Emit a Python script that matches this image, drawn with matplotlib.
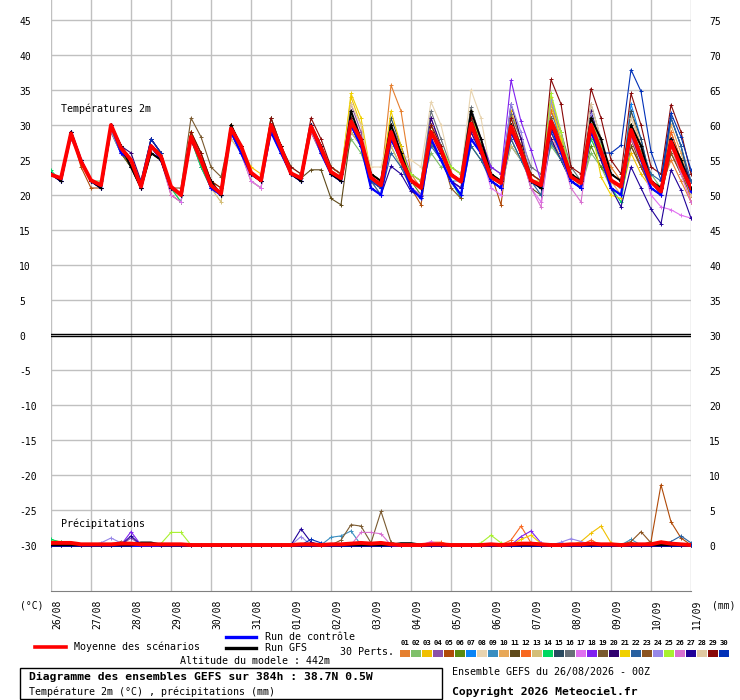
import numpy as np
import matplotlib.pyplot as plt

W, H = 740, 700
MONO = 'DejaVu Sans Mono'

# time axis: 6-hourly steps over 384h, starting 26/08 00Z
hours = np.arange(0, 385, 6)
day_labels = ['26/08', '27/08', '28/08', '29/08', '30/08', '31/08', '01/09', '02/09',
              '03/09', '04/09', '05/09', '06/09', '07/09', '08/09', '09/09', '10/09', '11/09']
left_ticks = [45, 40, 35, 30, 25, 20, 15, 10, 5, 0, -5, -10, -15, -20, -25, -30]
right_ticks = [75, 70, 65, 60, 55, 50, 45, 40, 35, 30, 25, 20, 15, 10, 5, 0]

member_colors = ['#E57F2F', '#7FC06A', '#F0C000', '#8B50A8', '#B04A08', '#5A8A10',
                 '#0A84F5', '#E8D4B0', '#3A8EC0', '#E8A858', '#5F4A1A', '#F86820',
                 '#D4BE78', '#00D860', '#2A4A60', '#687078', '#E070F0', '#8020F0',
                 '#7A5A30', '#300070', '#F0D000', '#2860A0', '#8C5420', '#9888E8',
                 '#A8F030', '#D870D0', '#200098', '#E0C8A0', '#880808', '#0030B8']

# 2m temperature (°C), one value per 6h step
t01 = [23,22,29,25, 22,21,30,26, 24,21,27,26, 21,20,28,24, 21,20,29,27, 23,22,30,27, 23,22,29,26, 24,23,31,28, 23,22,35.7,32, 23,21,28,25, 22,21,29,26, 22,21,31,27, 22,21,31,28, 23,22,31,27, 24,22,27,24, 22,21,25,22, 19]
t02 = [23,22,29,25, 22,22,30,27, 25,21,26,25, 21,20,28,25, 22,20,29,27, 23,22,31,27, 24,23,30,27, 23,22,28,26, 22,21,27,24, 22,21,26,24, 24,23,31,27, 23,22,27,25, 22,21,27,25, 22,21,26,24, 21,20,28,25, 23,21,28,25, 22]
t03 = [23,22,29,25, 22,21,30,27, 25,21,27,26, 21,20,29,26, 22,21,30,27, 24,23,31,27, 23,22,30,27, 24,23,34,30, 23,22,30,26, 22,21,28,26, 23,22,29,26, 23,22,32,28, 22,22,34,29, 23,22,30,26, 21,20,26,23, 21,20,27,24, 20]
t04 = [23,22,28,25, 22,21,29,26, 24,21,27,25, 21,20,28,25, 21,20,29,26, 22,21,29,26, 23,22,30,27, 23,22,33,29, 21,20,30,27, 23,22,30,27, 23,22,31,28, 22,21,30,26, 22,21,32,28, 22,21,30,26, 22,21,30,27, 22,20,28,25, 20]
t05 = [23,22,29,24, 21,21,30,26, 25,21,27,25, 20,19,28,25, 21,20,30,27, 23,22,30,26, 23,22,30,27, 24,23,31,28, 22,21,29,25, 21,18.6,28,25, 23,22,30,26, 23,18.6,30,26, 22,21,31,28, 23,22,30,27, 21,20,28,25, 21,20,29,25, 21]
t06 = [23,22,29,25, 22,21,30,27, 25,21,27,26, 21,20,29,25, 21,20,29,27, 23,22,30,26, 23,22,30,27, 23,22,30,28, 22,21,28,25, 22,20,27.5,25, 23,22,27,25, 23,22,28,25, 23,22,28,25, 22,21,27,24, 22,21,29,25, 22,21,27,24, 21]
t07 = [23,22,29,25, 22,21,30,26, 25,21,27,25, 21,20,28,25, 21,20,29,26, 23,22,30,27, 23,22,30,26, 23,22,31,28, 22,21,29,25, 22,21,29,26, 23,22,30,26, 22,21,29,26, 22,21,30,27, 23,22,31,26, 22,21,33,28, 22,21,31,27, 21]
t08 = [23,22,29,25, 22,21,30,27, 25,21,27,26, 21,20,29,25, 21,20,29,27, 23,22,30,27, 23,22,30,27, 24,23,31,28, 24,24,30,26, 25,24,33.3,30, 24,23,35,31, 23,22,29,26, 22,21,29,26, 22,21,28,25, 22,21,28,25, 21,20,27,24, 21]
t09 = [23,22,29,25, 22,21,30,26, 25,21,27,25, 21,20,28,24, 21,20,29,27, 23,22,30,26, 23,22,29,26, 23,22,30,27, 22,21,28,25, 21,19.5,29,26, 22,22,28,26, 22,21,27,25, 22,21,32,28, 23,22,32,27, 23,22,30,26, 22,21,28,24, 20]
t10 = [23,22,29,25, 22,21,30,26, 24,21,27,26, 21,20,28,25, 22,20,30,27, 23,22,30,27, 23,22,30,27, 24,23,31,28, 22,22,30,26, 22,21,28,26, 23,22,29,26, 23,22,30,26, 22,21,29,25, 23,21,29,26, 22,20,32,27, 22,21,30,26, 21]
t11 = [23,22,29,25, 22,21,29,26, 24,21,26,25, 21,20,29,26, 22,20,29,26, 23,22,30,26, 23,22.4,23.6,23.6, 19.5,18.6,29,27, 23,22,29,25, 22,21,30,27, 23,22,30,27, 22,21,29,26, 21,20,30,27, 22,21,29,25, 21,20,27,24, 21,20,26,23, 20]
t12 = [23,22,29,25, 22,21,30,27, 25,21,28,26, 21,20,28,25, 21,20,30,27, 23,22,30,27, 23,22,30,27, 23,22,31,28, 23,22,30,26, 22,21,29,26, 23,22,30,27, 22,21,30,27, 22,21,32,29, 23,22,31,27, 22,21,30,27, 22,21,29,25, 19]
t13 = [23,22,29,25, 22,21,29,26, 25,21,27,25, 21,19,28,25, 21,19,28,26, 22,21,30,26, 23,22,30,26, 23,22,29,27, 22,20,27,24, 21,20,28,26, 23,22,29,26, 22,21,27,25, 22,21,33,28, 22,21,29,25, 21,20,28,25, 22,21,27,24, 21]
t14 = [23.5,22,29,25, 22,21,29,26, 24,21,26,25, 21,19,28,24, 21,20,29,26, 23,22,30,26, 23,22,30,27, 24,23,30,27, 23,22,30,26, 22,21,29,26, 22,19.5,30,27, 22,21,29,26, 22,21,30,26, 22,21,28,25, 21,19,28,25, 22,21,28,24, 21]
t15 = [23,22,29,25, 22,21,30,26, 25,21,27,25, 21,20,28,25, 21,20,29,27, 23,22,31,27, 23,22,30,27, 24,23,31,28, 23,22,31,27, 22,21,30,27, 23,22,30,26, 22,21,30,26, 23,22,31,27, 23,22,30,27, 22,21,32,28, 22,21,31,27, 21]
t16 = [23,22,29,25, 22,21,30,26, 25,21,27,25, 21,20,28,25, 21,20,29,27, 23,22,30,27, 23,22,29,26, 23,22,30,27, 22,21,29,25, 23,22,32,28, 24,23,32.5,28, 24,23,31.5,28, 24,23,33,29, 24,22,33,28, 22,21,29,26, 22,21,28,25, 21]
t17 = [23,22,29,25, 22,21,30,26, 25,21,27,25, 20,19,28,25, 21,20,29,26, 22,21,30,26, 23,22,30,26, 23,22,30,27, 21,20,28,25, 21,20,28,26, 22,21,29,26, 21,20,29,26, 21,19,28,26, 22,21,29,26, 22,21,28,25, 20,18.3,17.9,17.1, 16.7]
t18 = [23,22,29,25, 22,21,30,27, 25,21,27,25, 21,20,28,25, 21,20,29,27, 23,22,30,27, 23,22,30,27, 24,23,32,28, 22,21,30,26, 22,21,31,27, 23,22,31,28, 24,23,36.4,30.5, 26.4,22,30,27, 22,21,30,26, 22,21,29,26, 21,20,28,25, 21]
t19 = [23,22,29,25, 22,21,30,27, 25,21,28,26, 21,21,31,28.3, 24,22.6,29,27, 23,22,30,27, 23,22,30,27, 23,22,31,28, 22,21,29,26, 22,21,29,26, 23,22,30,26, 22,21,30,27, 22,21,31,27, 23,22,30,26, 22,21,29,26, 22,20,28,24, 20]
t20 = [23,22,29,25, 22,21,30,27, 26,22,28,26, 21,20,28,25, 21,20,29,26, 23,22,30,26, 23,22,30,27, 23,22,30,27, 22,21,29,25, 22,21,31,27, 22,21,31.5,27, 23,22,33,28, 22,21,28,25, 22,21,32,27, 23,22,29,26, 22,21,28,25, 22]
t21 = [23,22,29,25, 22,21,30,27, 25,21,27,26, 21,20,29,25, 21,20,30,27, 23,22,30,27, 23,22,30,27, 24,23,34.5,31, 23,22,32,27, 22,21,30,26, 23,22,32,27, 23,22,31,27, 23,22,33,28, 22,21,30,22.6, 20,19.5,28,25, 21,20,27,23, 20]
t22 = [23,22,29,25, 22,21,30,26, 25,21,27,26, 21,20,28,25, 21,20,29,27, 23,22,29,26, 23,22,30,27, 23,22,30,27, 22,20,26,24, 21,20,27,25, 22,20,27,25, 22,21,28,25, 22,20,27.5,25, 22,21,29,26, 22,21,30,27, 23,22,31,27, 22]
t23 = [23,22,29,25, 22,21,30,26, 24,21,26,25, 21,20,28,25, 21,20,29,27, 23,22,30,27, 23,22,30,26, 23,22,30,27, 22,21,29,25, 22,21,29,26, 21,19.5,30,27, 22,21,30,26, 22,21,29,26, 22,21,29,26, 22,21,28,24, 21,20,26,23, 20]
t24 = [23,22,29,25, 22,21,29,26, 25,21,27,25, 21,20,28,25, 21,20,29,26, 23,22,30,26, 23,22,30,27, 23,22,31,28, 22,21,29,26, 22,21,29,26, 22,21,30,26, 23,22,33,29, 23,22,33.5,29, 23,22,31.5,27, 22,21,29,25, 22,21,27,24, 21]
t25 = [23,22,29,25, 22,21,30,27, 25,21,27,26, 21,20,28,25, 21,20,29,27, 23,22,30,27, 23,22,30,27, 24,23,31,28, 23,22,30,26, 23,22,30,27, 24,23,31,27, 23,22,30,27, 23,22,34.5,29, 23,22,31,27, 22,21,30,26, 22,21,28,25, 21]
t26 = [23,22,29,25, 22,21,30,26, 25,21,27,25, 21,20,28,25, 21,20,29,26, 23,22,30,26, 23,22,29,26, 23,22,30,27, 21,20,29,25, 21,20,28,25, 22,21,29,26, 22,21,29,26, 21,18.3,29,26, 21,19,29,25, 21,20,28,25, 21,20,27,23, 19]
t27 = [23,22,29,25, 22,21,30,27, 24,21,28,26, 21,20,28,25, 21,20,29,27, 23,22,30,27, 23,22,30,27, 23,22,30,27, 21,20,24.1,23, 20.5,19.8,28,25, 22,21,29,26, 22,21,29,26, 22,21,30,26, 22,21,29,25, 21,18.3,24,21, 18,15.9,23.6,20.7, 16.7]
t28 = [23,22,29,25, 22,21,30,27, 25,21,27,26, 21,20,28,25, 21,20,29,27, 23,22,30,27, 23,22,30,27, 24,23,33,30, 23,22,30,26, 22,21,30,27, 23,22,32,28, 23,22,31,27, 22,21,30,27, 23,22,33,28, 22,21,31,27, 22,21,28,24, 20]
t29 = [23,22,29,25, 22,21,30,27, 25,21,27,26, 21,20,29,26, 22,21,30,27, 23,22,31,27, 24,23,31,28, 24,23,31,28, 23,22,30,26, 22,21,30,27, 23,22,31,27, 23,22,31,27, 23,22,36.5,33, 24,23,35.2,31, 25,23,34.5,30, 24,23,32.9,29, 23]
t30 = [23,22,29,25, 22,21,30,27, 25,22,28,26, 21,20,28,25, 21,20,29,26, 23,22,30,26, 23,22,30,27, 23,22,30,27, 22,21,29,25, 22,21,29,26, 23,22,30,26, 22,21,30,26, 22,21,29,26, 22,21,30,26, 26,27.1,37.9,34.8, 26.2,22.1,31.7,28.3, 23.6]
t_ctrl = [23,22,29,25, 22,21,30,26, 25,21,27,25, 21,20,28,25, 21,20,29,26, 23,22,29,26, 23,22,30,26, 23,22,30,27, 21,20,28,25, 21,19.5,28,25, 22,20,28,26, 22,21,29,26, 22,21,30,26, 22,21,29,26, 21,20,29,25, 21,20,28,24, 20.5]
t_gfs = [23,22,29,25, 22,21,30,27, 24,21,26,25, 21,20,28,25, 22,20,30,27, 23,22,30,27, 23,22,30,27, 23,22,32,28, 23,22,30,26, 22,21,29,26, 23,22,32,28, 23,22,30,26, 22,21,30,27, 23,22,31,28, 23,22,30,27, 22,21,28,25, 21]
t_mean = [22.9,22.4,28.8,24.8, 22.1,21.4,30.0,26.7, 25.0,21.2,27.0,25.5, 21.2,20.0,28.3,25.0, 21.4,20.2,29.5,27.0, 23.2,22.1,30.0,26.7, 23.1,22.4,29.8,26.7, 23.3,22.4,30.5,27.9, 22.5,21.4,29.0,25.0, 22.1,21.0,29.0,26.4, 22.9,21.9,30.2,26.4, 22.6,21.7,29.8,26.2, 22.1,21.4,30.5,26.9, 22.6,21.7,30.0,26.2, 22.1,21.2,29.3,25.5, 21.9,20.5,27.6,24.0, 21.0]

# precipitation (mm / 6h): (step index, amount), all other steps are 0
rain_events = {
    1: [(46, 0.3)],
    3: [(0, 0.6), (1, 0.5), (53, 0.5), (54, 1.7), (55, 2.7), (56, 0.3)],
    4: [(8, 1.0)],
    5: [(60, 0.5), (61, 8.6), (62, 3.3), (63, 1.0)],
    9: [(28, 1.1), (29, 1.3), (30, 2.0), (58, 0.8)],
    12: [(38, 0.4), (39, 0.4), (46, 0.7), (47, 2.7), (48, 0.3), (54, 0.7)],
    14: [(0, 0.8), (1, 0.4)],
    17: [(38, 0.5)],
    18: [(8, 1.9), (47, 1.2), (48, 2.0), (49, 0.3)],
    19: [(29, 0.7), (30, 2.9), (31, 2.7), (32, 0.3), (33, 4.8), (34, 0.4)],
    21: [(47, 0.8), (48, 1.4), (49, 0.2)],
    22: [(62, 0.5), (63, 1.3), (64, 0.3)],
    23: [(7, 0.5), (58, 0.5), (59, 1.9), (60, 0.3)],
    24: [(5, 0.3), (6, 1.0), (7, 0.3), (25, 1.2), (51, 0.4), (52, 0.9), (53, 0.5)],
    25: [(11, 0.2), (12, 1.8), (13, 1.8), (43, 0.3), (44, 1.4), (45, 0.3), (61, 0.4)],
    26: [(31, 1.8), (32, 1.8), (33, 1.6)],
    27: [(8, 1.3), (25, 2.3), (26, 0.4)],
    30: [(26, 0.8), (27, 0.3)],
}
rain_gfs = [(9, 0.3), (10, 0.3), (35, 0.2), (36, 0.2)]
p_mean = [0.3,0.3,0.3,0.1, 0.1,0.1,0.1,0.2, 0.2,0.1,0.1,0.1, 0.1,0.1,0,0, 0,0,0,0, 0,0,0,0,
          0,0.1,0.1,0, 0.1,0.1,0.2,0.3, 0.2,0.3,0.1,0, 0,0,0.1,0.1, 0,0,0,0, 0.1,0,0.1,0.2,
          0.2,0.1,0,0, 0.1,0.1,0.2,0.1, 0.1,0,0.1,0.1, 0.1,0.4,0.2,0.1, 0]

members = [t01, t02, t03, t04, t05, t06, t07, t08, t09, t10, t11, t12, t13, t14, t15,
           t16, t17, t18, t19, t20, t21, t22, t23, t24, t25, t26, t27, t28, t29, t30]
for m in members + [t_ctrl, t_gfs, t_mean, p_mean]:
    assert len(m) == len(hours), len(m)


def rain_series(events):
    p = np.zeros(len(hours))
    for i, v in events:
        p[i] = v
    return p


def px_x(x):
    return x / W


def px_y(y):
    return 1 - y / H


# precipitation is drawn on the temperature scale, shifted by -30
OFFSET = -30

fig = plt.figure(figsize=(W / 100, H / 100), dpi=100)
ax = fig.add_axes([px_x(51), px_y(591), 640 / W, 591 / H])
ax.set_xlim(0, 384)
ax.set_ylim((335 - 591) / 7, 335 / 7)
for s in ['left', 'right', 'top']:
    ax.spines[s].set_visible(False)
ax.spines['bottom'].set_color('#808080')
ax.set_xticks([])
ax.set_yticks([])

grid_kw = dict(color='#c0c0c0', lw=1.0, zorder=0)
for d in range(len(day_labels)):
    ax.axvline(d * 24, **grid_kw)
for t in left_ticks:
    if t != 0:
        ax.axhline(t, **grid_kw)
ax.axhline(0.17, color='black', lw=1.0, zorder=1)
ax.axhline(-0.19, color='black', lw=1.0, zorder=1)

line_kw = dict(lw=0.8, marker='+', ms=3.5, mew=0.7)
for i, m in enumerate(members):
    c = member_colors[i]
    ax.plot(hours, m, color=c, zorder=2, **line_kw)
    p = rain_series(rain_events.get(i + 1, []))
    ax.plot(hours, p + OFFSET, color=c, zorder=2, **line_kw)

ax.plot(hours, t_ctrl, color='#0000ff', lw=1.6, marker='+', ms=3.5, mew=0.8, zorder=3)
ax.plot(hours, t_gfs, color='black', lw=1.4, marker='+', ms=3.5, mew=0.8, zorder=3)
ax.plot(hours, t_mean, color='#ff0000', lw=2.8, zorder=4)

ax.plot(hours, np.zeros(len(hours)) + OFFSET, color='#0000ff', lw=2.0, zorder=3)
ax.plot(hours, rain_series(rain_gfs) + OFFSET, color='black', lw=2.0, zorder=3)
ax.plot(hours, np.array(p_mean) + OFFSET, color='#ff0000', lw=2.8, zorder=4)

ax.text(6, (335 - 109) / 7, 'Températures 2m', family=MONO, fontsize=7.2,
        va='center', ha='left', zorder=5)
ax.text(6, (335 - 524) / 7, 'Précipitations', family=MONO, fontsize=7.2,
        va='center', ha='left', zorder=5)

# axis labels
for t in left_ticks:
    fig.text(px_x(19), px_y(335 - 7 * t + 2), str(t), family=MONO, fontsize=7,
             ha='left', va='center')
for v in right_ticks:
    fig.text(px_x(709), px_y(335 - 7 * (v - 30) + 2), str(v), family=MONO, fontsize=7,
             ha='left', va='center')
for d, lab in enumerate(day_labels):
    fig.text(px_x(51 + 40 * d + 6), px_y(600), lab, family=MONO, fontsize=7,
             rotation=90, ha='center', va='top')
fig.text(px_x(20), px_y(606), '(°C)', family=MONO, fontsize=7, ha='left', va='center')
fig.text(px_x(712), px_y(606), '(mm)', family=MONO, fontsize=7, ha='left', va='center')

# legend
fig.add_artist(plt.Line2D([px_x(35), px_x(66)], [px_y(647), px_y(647)], color='#ff0000', lw=2.6))
fig.text(px_x(74), px_y(647), 'Moyenne des scénarios', family=MONO, fontsize=7.2, va='center')
fig.add_artist(plt.Line2D([px_x(226), px_x(256)], [px_y(637), px_y(637)], color='#0000ff', lw=2.4))
fig.text(px_x(265), px_y(637), 'Run de contrôle', family=MONO, fontsize=7.2, va='center')
fig.add_artist(plt.Line2D([px_x(226), px_x(256)], [px_y(648), px_y(648)], color='black', lw=2.4))
fig.text(px_x(265), px_y(648), 'Run GFS', family=MONO, fontsize=7.2, va='center')
fig.text(px_x(340), px_y(652), '30 Perts.', family=MONO, fontsize=7.2, va='center')
for i, c in enumerate(member_colors):
    x0 = 400 + 11 * i
    fig.add_artist(plt.Rectangle((px_x(x0), px_y(657)), 10 / W, 7 / H, color=c, lw=0))
    fig.text(px_x(x0 + 5), px_y(643), '%02d' % (i + 1), family=MONO, fontsize=5.2,
             ha='center', va='center', weight='bold')
fig.text(px_x(180), px_y(661), 'Altitude du modele : 442m', family=MONO, fontsize=7.2, va='center')

fig.add_artist(plt.Rectangle((px_x(20), px_y(699)), 422 / W, 31 / H, fill=False,
                             edgecolor='black', lw=1.0))
fig.text(px_x(29), px_y(677), 'Diagramme des ensembles GEFS sur 384h : 38.7N 0.5W',
         family=MONO, fontsize=8.2, weight='bold', va='center')
fig.text(px_x(29), px_y(692), 'Température 2m (°C) , précipitations (mm)',
         family=MONO, fontsize=7.2, va='center')
fig.text(px_x(452), px_y(672), 'Ensemble GEFS du 26/08/2026 - 00Z',
         family=MONO, fontsize=7.2, va='center')
fig.text(px_x(452), px_y(692), 'Copyright 2026 Meteociel.fr',
         family=MONO, fontsize=8.2, weight='bold', va='center')

fig.savefig('out.png', dpi=100, facecolor='white')
